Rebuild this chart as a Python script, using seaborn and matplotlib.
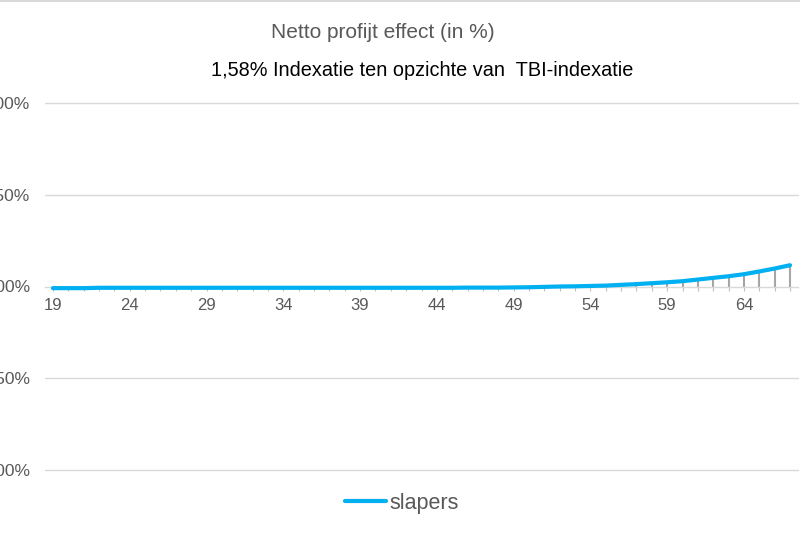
import pandas as pd
import matplotlib
matplotlib.use("Agg")
import matplotlib.pyplot as plt
import seaborn as sns
from matplotlib.lines import Line2D

# Data (net profit effect in %, per age)
ages = list(range(19, 68))
slapers = [-0.009, -0.009, -0.009,
           -0.007, -0.007, -0.007, -0.007, -0.007, -0.007, -0.007, -0.007,
           -0.007, -0.007, -0.007, -0.007, -0.007, -0.007, -0.007, -0.007,
           -0.007, -0.007, -0.007, -0.007, -0.007, -0.007, -0.007, -0.007,
           -0.006, -0.006, -0.006,
           -0.005, -0.004, -0.002, 0.000, 0.001, 0.003, 0.005, 0.009,
           0.013, 0.018, 0.023, 0.029, 0.038, 0.047, 0.056, 0.067,
           0.082, 0.098, 0.116]
y_ticks = [-1.0, -0.5, 0.0, 0.5, 1.0]
x_label_ages = [19, 24, 29, 34, 39, 44, 49, 54, 59, 64]

df = pd.DataFrame({"Leeftijd": ages, "slapers": slapers})

sns.set_theme(style="white")
plt.rcParams["font.family"] = ["Liberation Sans", "DejaVu Sans"]

grey = "#595959"
blue = "#00B0F0"

fig = plt.figure(figsize=(8, 5.33), dpi=100)
ax = fig.add_axes([45.3 / 800, 63 / 533, (797.7 - 45.3) / 800, 367 / 533])

# gridlines
for t in y_ticks:
    if t != 0:
        ax.axhline(t, color="#d9d9d9", lw=1, zorder=0, clip_on=False)

# drop lines
ax.vlines(df["Leeftijd"], 0, df["slapers"], color="#a6a6a6", lw=1.5, zorder=1)

sns.lineplot(data=df, x="Leeftijd", y="slapers", color=blue, lw=3,
             label="slapers", ax=ax, zorder=3)

ax.set_xlim(18.5, 67.5)
ax.set_ylim(-1.0, 1.0)
ax.set_xlabel("")
ax.set_ylabel("")

for side in ["top", "right", "left"]:
    ax.spines[side].set_visible(False)
ax.spines["bottom"].set_position(("data", 0))
ax.spines["bottom"].set_color("#d9d9d9")
ax.spines["bottom"].set_linewidth(1)

ax.set_xticks(ages)
ax.set_xticklabels([str(a) if a in x_label_ages else "" for a in ages])
ax.tick_params(axis="x", bottom=True, length=3, width=0.8, color="#bfbfbf",
               labelsize=12, labelcolor=grey, pad=5)

ax.set_yticks(y_ticks)
ax.set_yticklabels([f"{t:.2f}%".replace(".", ",") for t in y_ticks])
ax.tick_params(axis="y", left=False, labelsize=12.5, labelcolor=grey, pad=5)

fig.text(383 / 800, 1 - 32 / 533, "Netto profijt effect (in %)", ha="center",
         va="center", fontsize=15, color=grey)
fig.text(422 / 800, 1 - 70 / 533, "1,58% Indexatie ten opzichte van  TBI-indexatie",
         ha="center", va="center", fontsize=14.3, color="black")

leg = ax.legend(loc="center", bbox_to_anchor=(0.474, -0.09), frameon=False,
                fontsize=15.5, handlelength=1.9, handletextpad=0.15)
for txt in leg.get_texts():
    txt.set_color(grey)

fig.add_artist(Line2D([0, 1], [0.998, 0.998], color="#d9d9d9", lw=1.5))

fig.savefig("out.png", dpi=100)
